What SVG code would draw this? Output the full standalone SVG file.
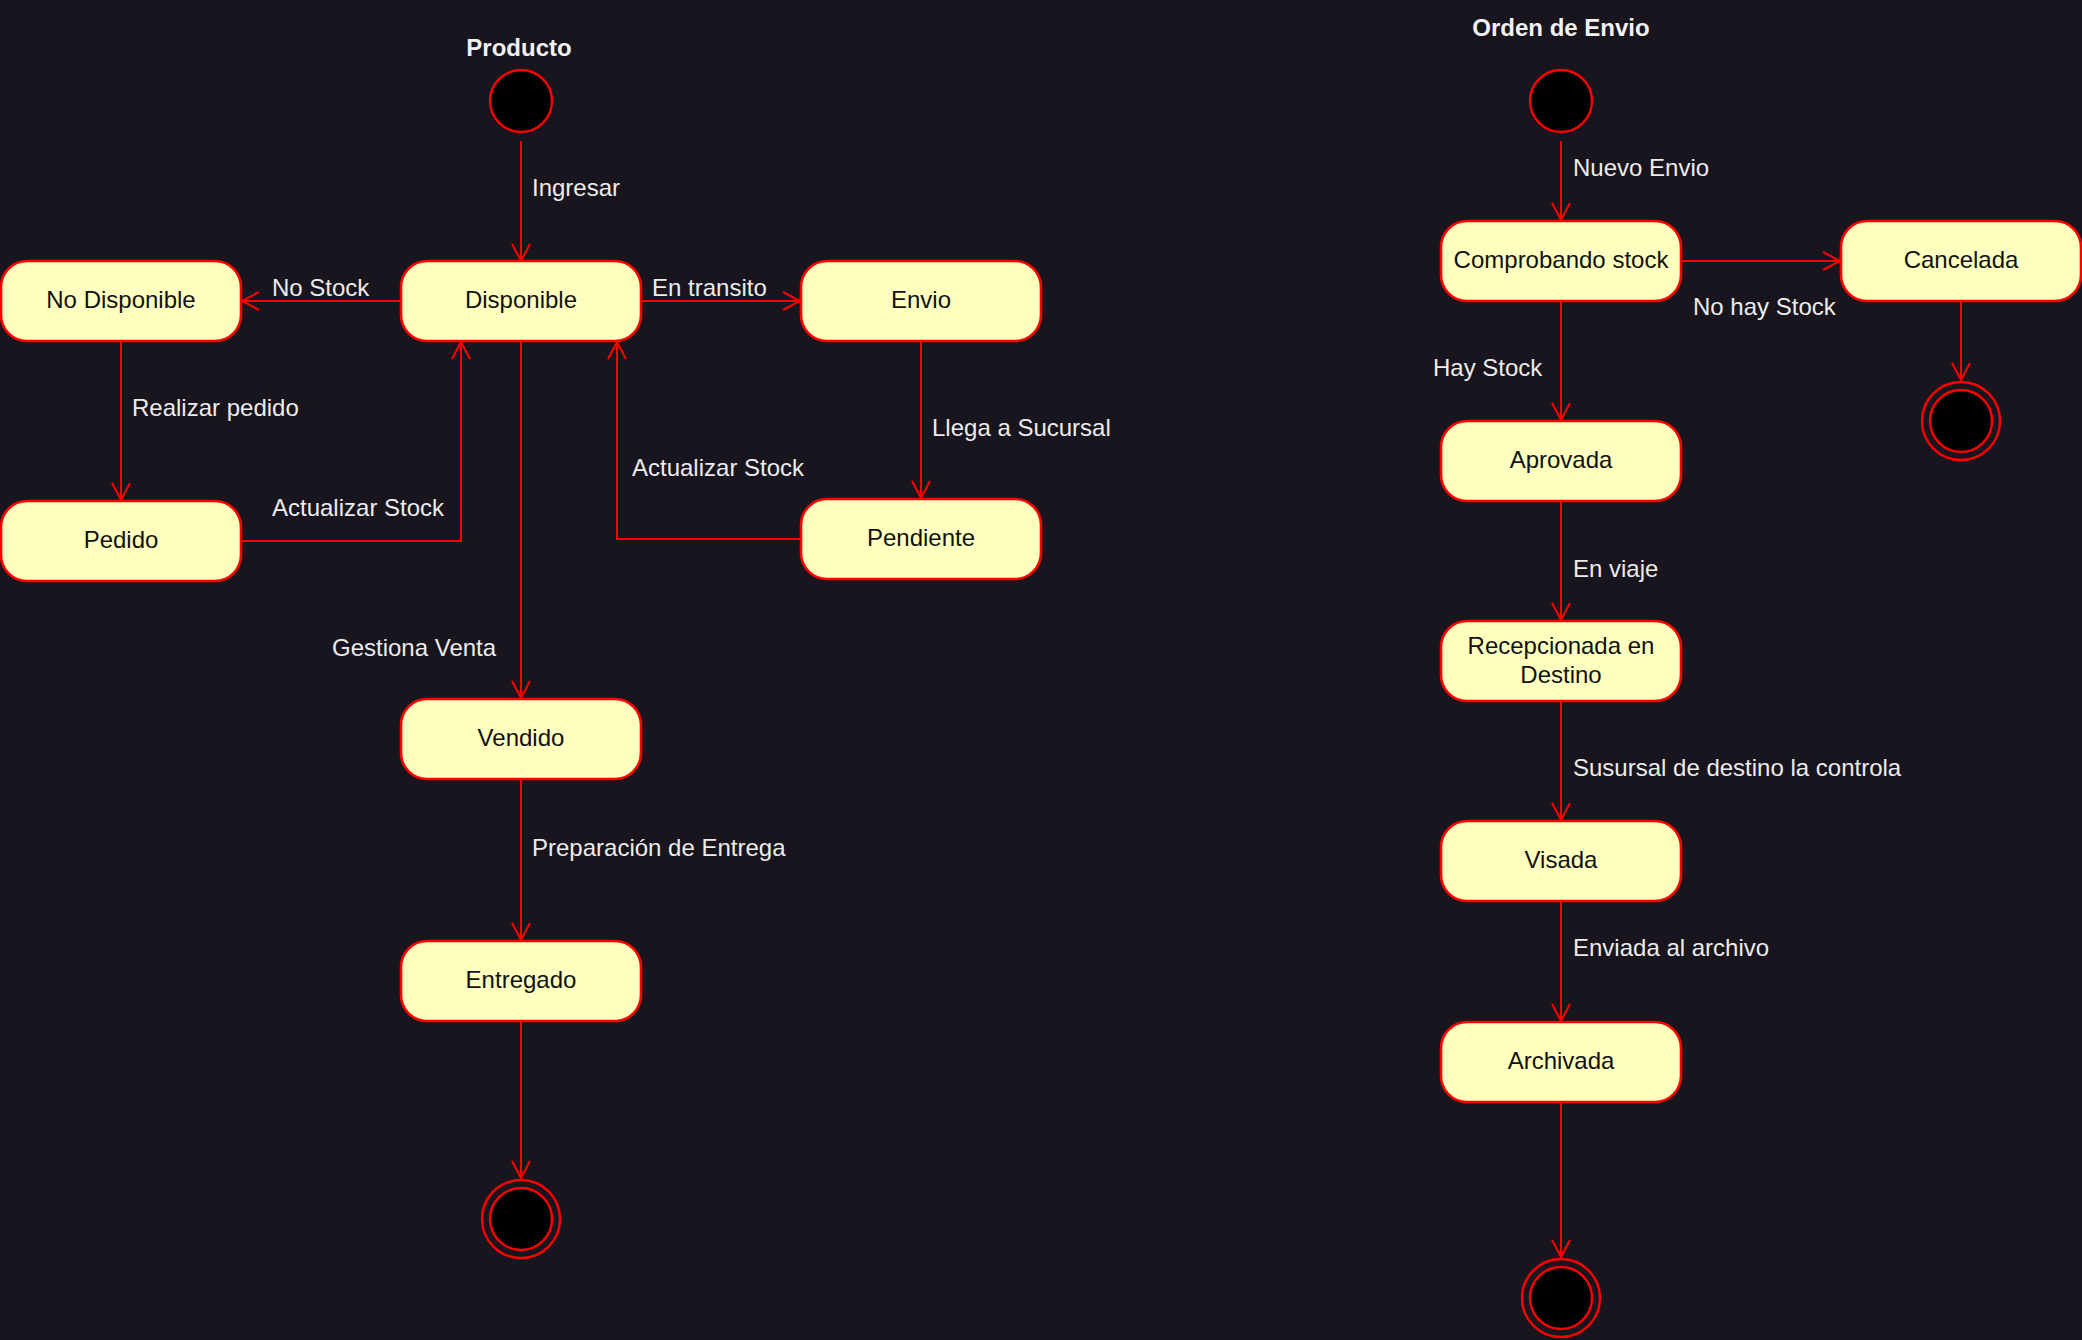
<svg xmlns="http://www.w3.org/2000/svg" width="2082" height="1340" viewBox="0 0 2082 1340">
<style>
.bg{fill:#18151e}
.st{fill:#ffffc0;stroke:#ff0000;stroke-width:2.6}
.nt{font-family:"Liberation Sans",Arial,sans-serif;font-size:24px;fill:#111111;text-anchor:middle}
.lb{font-family:"Liberation Sans",Arial,sans-serif;font-size:24px;fill:#ececec}
.tt{font-family:"Liberation Sans",Arial,sans-serif;font-size:24px;font-weight:bold;fill:#f2f2f2;text-anchor:middle}
.ln{fill:none;stroke:#ff0000;stroke-width:2;marker-end:url(#arr)}
.ini{fill:#000000;stroke:#ff0000;stroke-width:2.4}
.fo{fill:none;stroke:#ff0000;stroke-width:2.4}
.fi{fill:#000000;stroke:#ff0000;stroke-width:2.4}
</style>
<defs>
<marker id="arr" markerWidth="20" markerHeight="22" refX="18" refY="10" orient="auto" markerUnits="userSpaceOnUse" viewBox="0 0 20 20">
<path d="M1,1 L18,10 L1,19" fill="none" stroke="#ff0000" stroke-width="2"/>
</marker>
</defs>
<rect class="bg" x="0" y="0" width="2082" height="1340"/>

<g id="titles">
<text class="tt" x="519" y="56">Producto</text>
<text class="tt" x="1561" y="36">Orden de Envio</text>
</g>

<g id="connectors">
<line class="ln" x1="521" y1="141" x2="521" y2="261"/>
<line class="ln" x1="401" y1="301" x2="242" y2="301"/>
<line class="ln" x1="121" y1="341" x2="121" y2="500"/>
<polyline class="ln" points="241,541 461,541 461,342"/>
<line class="ln" x1="641" y1="301" x2="800" y2="301"/>
<line class="ln" x1="921" y1="341" x2="921" y2="498"/>
<polyline class="ln" points="801,539 617,539 617,342"/>
<line class="ln" x1="521" y1="341" x2="521" y2="698"/>
<line class="ln" x1="521" y1="779" x2="521" y2="940"/>
<line class="ln" x1="521" y1="1021" x2="521" y2="1178"/>

<line class="ln" x1="1561" y1="141" x2="1561" y2="220"/>
<line class="ln" x1="1681" y1="261" x2="1840" y2="261"/>
<line class="ln" x1="1961" y1="301" x2="1961" y2="380"/>
<line class="ln" x1="1561" y1="301" x2="1561" y2="420"/>
<line class="ln" x1="1561" y1="501" x2="1561" y2="620"/>
<line class="ln" x1="1561" y1="701" x2="1561" y2="820"/>
<line class="ln" x1="1561" y1="901" x2="1561" y2="1021"/>
<line class="ln" x1="1561" y1="1102" x2="1561" y2="1257"/>

<text class="lb" x="532" y="196">Ingresar</text>
<text class="lb" x="272" y="296">No Stock</text>
<text class="lb" x="132" y="416">Realizar pedido</text>
<text class="lb" x="272" y="516">Actualizar Stock</text>
<text class="lb" x="652" y="296">En transito</text>
<text class="lb" x="932" y="436">Llega a Sucursal</text>
<text class="lb" x="632" y="476">Actualizar Stock</text>
<text class="lb" x="332" y="656">Gestiona Venta</text>
<text class="lb" x="532" y="856">Preparación de Entrega</text>

<text class="lb" x="1573" y="176">Nuevo Envio</text>
<text class="lb" x="1693" y="315">No hay Stock</text>
<text class="lb" x="1433" y="376">Hay Stock</text>
<text class="lb" x="1573" y="577">En viaje</text>
<text class="lb" x="1573" y="776">Susursal de destino la controla</text>
<text class="lb" x="1573" y="956">Enviada al archivo</text>
</g>

<g id="p-initial"><circle class="ini" cx="521" cy="101" r="31"/></g>
<g id="p-disponible"><rect class="st" x="401" y="261" width="240" height="80" rx="26" ry="26"/><text class="nt" x="521" y="308">Disponible</text></g>
<g id="p-nodisponible"><rect class="st" x="1" y="261" width="240" height="80" rx="26" ry="26"/><text class="nt" x="121" y="308">No Disponible</text></g>
<g id="p-pedido"><rect class="st" x="1" y="501" width="240" height="80" rx="26" ry="26"/><text class="nt" x="121" y="548">Pedido</text></g>
<g id="p-envio"><rect class="st" x="801" y="261" width="240" height="80" rx="26" ry="26"/><text class="nt" x="921" y="308">Envio</text></g>
<g id="p-pendiente"><rect class="st" x="801" y="499" width="240" height="80" rx="26" ry="26"/><text class="nt" x="921" y="546">Pendiente</text></g>
<g id="p-vendido"><rect class="st" x="401" y="699" width="240" height="80" rx="26" ry="26"/><text class="nt" x="521" y="746">Vendido</text></g>
<g id="p-entregado"><rect class="st" x="401" y="941" width="240" height="80" rx="26" ry="26"/><text class="nt" x="521" y="988">Entregado</text></g>
<g id="p-final"><circle class="fo" cx="521" cy="1219" r="39"/><circle class="fi" cx="521" cy="1219" r="31"/></g>

<g id="o-initial"><circle class="ini" cx="1561" cy="101" r="31"/></g>
<g id="o-comprobando"><rect class="st" x="1441" y="221" width="240" height="80" rx="26" ry="26"/><text class="nt" x="1561" y="268">Comprobando stock</text></g>
<g id="o-cancelada"><rect class="st" x="1841" y="221" width="240" height="80" rx="26" ry="26"/><text class="nt" x="1961" y="268">Cancelada</text></g>
<g id="o-final-cancel"><circle class="fo" cx="1961" cy="421" r="39"/><circle class="fi" cx="1961" cy="421" r="31"/></g>
<g id="o-aprovada"><rect class="st" x="1441" y="421" width="240" height="80" rx="26" ry="26"/><text class="nt" x="1561" y="468">Aprovada</text></g>
<g id="o-recepcionada"><rect class="st" x="1441" y="621" width="240" height="80" rx="26" ry="26"/><text class="nt" x="1561" y="654">Recepcionada en</text><text class="nt" x="1561" y="683">Destino</text></g>
<g id="o-visada"><rect class="st" x="1441" y="821" width="240" height="80" rx="26" ry="26"/><text class="nt" x="1561" y="868">Visada</text></g>
<g id="o-archivada"><rect class="st" x="1441" y="1022" width="240" height="80" rx="26" ry="26"/><text class="nt" x="1561" y="1069">Archivada</text></g>
<g id="o-final"><circle class="fo" cx="1561" cy="1298" r="39"/><circle class="fi" cx="1561" cy="1298" r="31"/></g>
</svg>
